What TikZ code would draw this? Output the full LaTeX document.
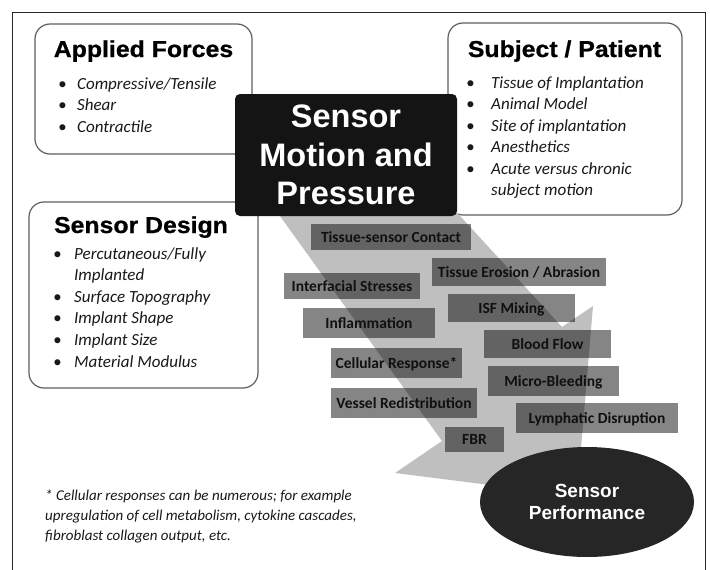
\documentclass[tikz,border=0pt]{standalone}
\usepackage{fontspec}
\setmainfont{Carlito}
\newfontfamily\headfont{Liberation Sans}
\newfontfamily\headwide{Liberation Sans}[FakeStretch=1.08, FakeBold=0.8]
\usepackage{xcolor}
\definecolor{framecol}{HTML}{5E5E5E}
\definecolor{arrowgray}{HTML}{BFBFBF}
\definecolor{titlebg}{HTML}{141414}
\definecolor{perfbg}{HTML}{262626}
\definecolor{tagtext}{HTML}{101010}
\usepackage{tikz}
\usetikzlibrary{shapes.geometric}

\begin{document}
\begin{tikzpicture}[x=1pt, y=-1pt,
  infobox/.style={draw=framecol, line width=1.2pt, rounded corners=15pt, fill=white},
  heading/.style={anchor=base, inner sep=0pt, font=\headwide\bfseries\fontsize{23}{27}\selectfont},
  bullets/.style={anchor=base west, inner sep=0pt, text=black!90, font=\itshape\fontsize{17}{21.6}\selectfont},
  tag/.style={rectangle, fill=black, fill opacity=0.48, text opacity=1, text=tagtext,
              inner sep=0pt, text height=10pt, text depth=0pt,
              font=\bfseries\fontsize{15.5}{18}\selectfont}]

  \useasboundingbox (0,0) rectangle (710,570);
  \draw[line width=1pt, black!85] (12,570) -- (12,12) -- (705,12) -- (705,570);

  \node[infobox, minimum width=217pt, minimum height=130pt] (forces) at (143.5,89) {};
  \node[infobox, minimum width=234pt, minimum height=192pt] (subject) at (565,119) {};
  \node[infobox, minimum width=229pt, minimum height=186pt] (design) at (143.5,295) {};

  \node[heading] (forceshead) at (143.5,57) {Applied Forces};
  \node[heading] (subjecthead) at (564.5,57) {Subject / Patient};
  \node[heading] (designhead) at (141,233) {Sensor Design};

  \node[bullets] (forceslist) at (58,89) {\begin{tabular}[t]{@{}p{19pt}@{}l@{}}
    \textbullet & Compressive/Tensile\\
    \textbullet & Shear\\
    \textbullet & Contractile
  \end{tabular}};
  \node[bullets] (subjectlist) at (466,88) {\begin{tabular}[t]{@{}p{25pt}@{}l@{}}
    \textbullet & Tissue of Implantation\\
    \textbullet & Animal Model\\
    \textbullet & Site of implantation\\
    \textbullet & Anesthetics\\
    \textbullet & Acute versus chronic\\
                & subject motion
  \end{tabular}};
  \node[bullets] (designlist) at (53,259) {\begin{tabular}[t]{@{}p{21pt}@{}l@{}}
    \textbullet & Percutaneous/Fully\\
                & Implanted\\
    \textbullet & Surface Topography\\
    \textbullet & Implant Shape\\
    \textbullet & Implant Size\\
    \textbullet & Material Modulus
  \end{tabular}};

  % broad arrow from the title down to the performance ellipse
  \fill[arrowgray] (272,205) -- (450,205) -- (562,327) -- (593,306)
    -- (577,496) -- (395,473) -- (442,441) -- cycle;

  \node[fill=titlebg, rounded corners=5pt, minimum width=222pt, minimum height=122pt,
        text=white, align=center, font=\headfont\bfseries\fontsize{32.5}{38.5}\selectfont]
        (title) at (346,155) {Sensor\\Motion and\\Pressure};

  \node[tag, minimum width=160pt, minimum height=26pt] (contact) at (391,237) {Tissue-sensor Contact};
  \node[tag, minimum width=174pt, minimum height=28pt] (erosion) at (519,272) {Tissue Erosion / Abrasion};
  \node[tag, minimum width=136pt, minimum height=26pt] (stresses) at (352,286) {Interfacial Stresses};
  \node[tag, minimum width=127pt, minimum height=28pt] (isf) at (511.5,308) {ISF Mixing};
  \node[tag, minimum width=132pt, minimum height=30pt] (inflam) at (369,323) {Inflammation};
  \node[tag, minimum width=127pt, minimum height=28pt] (blood) at (547.5,344) {Blood Flow};
  \node[tag, minimum width=131pt, minimum height=30pt] (cellular) at (396.5,363) {Cellular Response*};
  \node[tag, minimum width=131pt, minimum height=30pt] (bleeding) at (553.5,381) {Micro-Bleeding};
  \node[tag, minimum width=146pt, minimum height=30pt] (vessel) at (404,403) {Vessel Redistribution};
  \node[tag, minimum width=162pt, minimum height=30pt] (lymph) at (597,418) {Lymphatic Disruption};
  \node[tag, minimum width=59pt, minimum height=25pt] (fbr) at (474.5,439.5) {FBR};

  \node[ellipse, fill=perfbg, minimum width=214pt, minimum height=110pt, inner sep=0pt,
        text=white, align=center, font=\headfont\bfseries\fontsize{19}{22.5}\selectfont]
        (perf) at (587,502) {Sensor\\Performance};

  \node[anchor=base west, inner sep=0pt, text=black!90, font=\itshape\fontsize{15}{20}\selectfont]
        (note) at (45,500) {\begin{tabular}[t]{@{}l@{}}
    * Cellular responses can be numerous; for example\\
    upregulation of cell metabolism, cytokine cascades,\\
    fibroblast collagen output, etc.
  \end{tabular}};
\end{tikzpicture}
\end{document}
